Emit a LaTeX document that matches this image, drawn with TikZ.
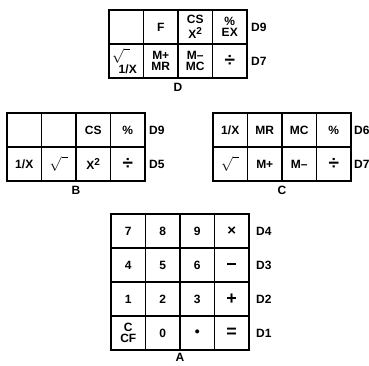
\documentclass[tikz,border=0pt]{standalone}
\usepackage{fontspec}
\setmainfont{Liberation Sans}
\usetikzlibrary{positioning}
\tikzset{
  keycap/.style={draw,line width=1.6pt,minimum width=34.5pt,minimum height=34pt,inner sep=0pt,outer sep=0pt,align=center,font=\fontsize{12}{11.5}\selectfont\bfseries},
  keyframe/.style={line width=2.6pt},
  rowtag/.style={inner sep=0pt,font=\fontsize{12}{12}\selectfont\bfseries},
  padtag/.style={inner sep=0pt,font=\fontsize{12}{12}\selectfont\bfseries}
}
\newcommand{\rootkey}{{\fontsize{14}{14}\selectfont$\sqrt{\;\,}$}}
\newcommand{\divkey}{{\fontsize{19}{19}\selectfont ÷}}
\newcommand{\sqkey}{X\raisebox{4.5pt}{\fontsize{10}{10}\selectfont 2}}

\begin{document}
\begin{tikzpicture}[x=1pt,y=-1pt]
\useasboundingbox (0,0) rectangle (369,365);

% pad D
\node[keycap,anchor=north west] (d1) at (109,10) {};
\node[keycap,right=0pt of d1] (d2) {F};
\node[keycap,right=0pt of d2] (d3) {CS\\[2.5pt]\sqkey};
\node[keycap,right=0pt of d3] (d4) {\%\\EX};
\node[keycap,below=0pt of d1] (d5) {\hspace*{-10pt}\rootkey\\[0pt]\hspace*{3pt}1/X};
\node[keycap,right=0pt of d5] (d6) {M+\\MR};
\node[keycap,right=0pt of d6] (d7) {M--\\MC};
\node[keycap,right=0pt of d7] (d8) {\divkey};
\draw[keyframe] (d1.north west) rectangle (d8.south east);
\node[rowtag,right=4pt of d4] {D9};
\node[rowtag,right=4pt of d8] {D7};
\node[padtag,below=5pt of d6.south east] {D};

% pad B
\node[keycap,anchor=north west] (b1) at (7,113) {};
\node[keycap,right=0pt of b1] (b2) {};
\node[keycap,right=0pt of b2] (b3) {CS};
\node[keycap,right=0pt of b3] (b4) {\%};
\node[keycap,below=0pt of b1] (b5) {1/X};
\node[keycap,right=0pt of b5] (b6) {\rootkey};
\node[keycap,right=0pt of b6] (b7) {\sqkey};
\node[keycap,right=0pt of b7] (b8) {\divkey};
\draw[keyframe] (b1.north west) rectangle (b8.south east);
\node[rowtag,right=4pt of b4] {D9};
\node[rowtag,right=4pt of b8] {D5};
\node[padtag,below=5pt of b6.south east] {B};

% pad C
\node[keycap,anchor=north west] (c1) at (213,113) {1/X};
\node[keycap,right=0pt of c1] (c2) {MR};
\node[keycap,right=0pt of c2] (c3) {MC};
\node[keycap,right=0pt of c3] (c4) {\%};
\node[keycap,below=0pt of c1] (c5) {\rootkey};
\node[keycap,right=0pt of c5] (c6) {M+};
\node[keycap,right=0pt of c6] (c7) {M--};
\node[keycap,right=0pt of c7] (c8) {\divkey};
\draw[keyframe] (c1.north west) rectangle (c8.south east);
\node[rowtag,right=3pt of c4] {D6};
\node[rowtag,right=3pt of c8] {D7};
\node[padtag,below=5pt of c6.south east] {C};

% pad A
\tikzset{every node/.append style={minimum height=35pt}}
\node[keycap,anchor=north west] (a1) at (111,214) {7};
\node[keycap,right=0pt of a1] (a2) {8};
\node[keycap,right=0pt of a2] (a3) {9};
\node[keycap,right=0pt of a3] (a4) {{\fontsize{15}{15}\selectfont ×}};
\node[keycap,below=0pt of a1] (a5) {4};
\node[keycap,right=0pt of a5] (a6) {5};
\node[keycap,right=0pt of a6] (a7) {6};
\node[keycap,right=0pt of a7] (a8) {\smash{\raisebox{-5.5pt}{\fontsize{18}{18}\selectfont −}}};
\node[keycap,below=0pt of a5] (a9) {1};
\node[keycap,right=0pt of a9] (a10) {2};
\node[keycap,right=0pt of a10] (a11) {3};
\node[keycap,right=0pt of a11] (a12) {{\fontsize{18}{18}\selectfont +}};
\node[keycap,below=0pt of a9] (a13) {C\\CF};
\node[keycap,right=0pt of a13] (a14) {0};
\node[keycap,right=0pt of a14] (a15) {{\fontsize{14}{14}\selectfont •}};
\node[keycap,right=0pt of a15] (a16) {{\fontsize{18}{18}\selectfont =}};
\draw[keyframe] (a1.north west) rectangle (a16.south east);
\node[rowtag,minimum height=0pt,right=7pt of a4] {D4};
\node[rowtag,minimum height=0pt,right=7pt of a8] {D3};
\node[rowtag,minimum height=0pt,right=7pt of a12] {D2};
\node[rowtag,minimum height=0pt,right=7pt of a16] {D1};
\node[padtag,minimum height=0pt,below=3pt of a14.south east] {A};
\end{tikzpicture}
\end{document}
